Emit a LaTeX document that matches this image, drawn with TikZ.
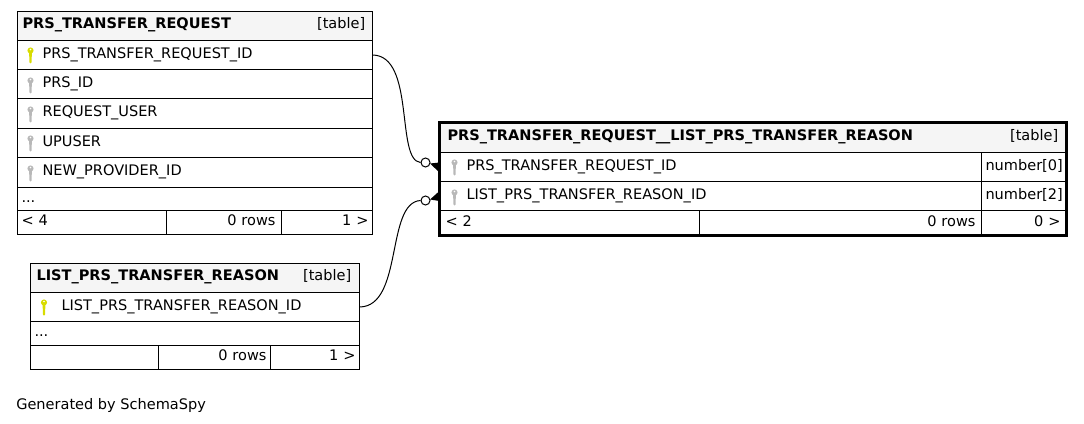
\documentclass[tikz,border=0pt]{standalone}
\usepackage{fontspec}
\setmainfont{DejaVu Sans}
\usetikzlibrary{positioning}
\definecolor{headgray}{HTML}{F5F5F5}
\definecolor{keyyellow}{HTML}{D8DC00}
\definecolor{keygray}{HTML}{B8B8B8}
\tikzset{
cell/.style={draw, line width=0.75pt, anchor=north west, inner xsep=3pt, inner ysep=0pt, font=\fontsize{10.9}{13}\selectfont, outer sep=0pt, text height=8pt, text depth=3pt},
head/.style={cell, fill=headgray, inner xsep=4.5pt, text depth=4pt},
tag/.style={anchor=base east, inner sep=0pt, font=\fontsize{10.9}{13}\selectfont},
relation/.style={line width=0.75pt},
hollow/.style={draw, fill=white, circle, line width=0.75pt, inner sep=0pt, minimum size=6.75pt},
crow/.style={fill=black}
}
% one table cell: name, x, y, width, height, align, text
\newcommand{\tcell}[7]{\node[cell, text width=(#4-8)*0.75pt, minimum height=#5*0.75pt, align=#6] (#1) at (#2,#3) {#7};}
\newcommand{\tkey}[3]{\fill[#3] (#1,#2) circle (2.3pt);
\fill[#3] (#1-1.5,#2) -- (#1+1.5,#2) -- (#1+1,#2+12) -- (#1,#2+13) -- (#1-1,#2+12) -- cycle;
\fill[white] (#1,#2-1) circle (0.6pt);}
\begin{document}
\begin{tikzpicture}[x=0.75pt,y=-0.75pt]
\useasboundingbox (-0.5,-0.5) rectangle (1083.5,423.5);

% first table
\node[head, text width=343*0.75pt, minimum height=29*0.75pt, align=left] (req) at (17,11) {\hspace{-0.75pt}\textbf{PRS\_TRANSFER\_REQUEST}};
\node[tag] (reqtag) at (365,28) {[table]};
\tcell{reqid}{17}{40}{355}{29}{left}{\hspace{15.75pt}PRS\_TRANSFER\_REQUEST\_ID}
\tcell{prsid}{17}{69}{355}{29}{left}{\hspace{15.75pt}PRS\_ID}
\tcell{requser}{17}{98}{355}{30}{left}{\hspace{15.75pt}REQUEST\_USER}
\tcell{upuser}{17}{128}{355}{29}{left}{\hspace{15.75pt}UPUSER}
\tcell{provid}{17}{157}{355}{30}{left}{\hspace{15.75pt}NEW\_PROVIDER\_ID}
\tcell{reqmore}{17}{187}{355}{23}{left}{...}
\tcell{reqa}{17}{210}{149}{24}{left}{< 4}
\tcell{reqb}{166}{210}{115}{24}{right}{0 rows\kern1.5pt}
\tcell{reqc}{281}{210}{91}{24}{right}{1 >}
\tkey{30}{50}{keyyellow}
\tkey{30}{80}{keygray}
\tkey{30}{109}{keygray}
\tkey{30}{138}{keygray}
\tkey{30}{168}{keygray}

% second table
\node[head, text width=317*0.75pt, minimum height=29*0.75pt, align=left] (rsn) at (30,263) {\textbf{LIST\_PRS\_TRANSFER\_REASON}};
\node[tag] (rsntag) at (351,280) {[table]};
\tcell{rsnid}{30}{292}{329}{29}{left}{\hspace{20.25pt}LIST\_PRS\_TRANSFER\_REASON\_ID}
\tcell{rsnmore}{30}{321}{329}{24}{left}{...}
\tcell{rsna}{30}{345}{128}{24}{left}{}
\tcell{rsnb}{158}{345}{112}{24}{right}{0 rows}
\tcell{rsnc}{270}{345}{89}{24}{right}{1 >}
\tkey{43.5}{302}{keyyellow}

% third table
\node[head, inner xsep=6pt, text width=611*0.75pt, minimum height=30*0.75pt, align=left] (lnk) at (439,122) {\textbf{PRS\_TRANSFER\_REQUEST\_\_LIST\_PRS\_TRANSFER\_REASON}};
\node[tag] (lnktag) at (1058,140) {[table]};
\tcell{lnkreq}{439}{152}{542}{29}{left}{\hspace{17.25pt}PRS\_TRANSFER\_REQUEST\_ID}
\tcell{lnkreqtype}{981}{152}{85}{29}{right}{number[0]}
\tcell{lnkrsn}{439}{181}{542}{29}{left}{\hspace{17.25pt}LIST\_PRS\_TRANSFER\_REASON\_ID}
\tcell{lnkrsntype}{981}{181}{85}{29}{right}{number[2]}
\tcell{lnka}{439}{210}{260}{25}{left}{\hspace{1.5pt}< 2}
\tcell{lnkb}{699}{210}{282}{25}{right}{0 rows\kern1.5pt}
\tcell{lnkc}{981}{210}{85}{25}{right}{0 >\kern1.5pt}
\tkey{454}{162}{keygray}
\tkey{454}{192}{keygray}
\draw[line width=2.25pt] (lnk.north west) rectangle (lnkc.south east);

% relations
\node[hollow] (reqdot) at (425,162) {};
\node[hollow] (rsndot) at (425,200) {};
\draw[relation] (reqid.east) .. controls (415,55) and (395,160) .. (reqdot.west);
\draw[relation] (rsnid.east) .. controls (403,306) and (385,202) .. (rsndot.west);
\fill[crow] (429.5,163) -- (439,162) -- (439,172) -- cycle;
\fill[crow] (429.5,199) -- (439,190.5) -- (439,200.5) -- cycle;

\node[anchor=base west, inner sep=0pt, font=\fontsize{10.9}{13}\selectfont] (gen) at (15.5,409) {Generated by SchemaSpy};
\end{tikzpicture}
\end{document}
